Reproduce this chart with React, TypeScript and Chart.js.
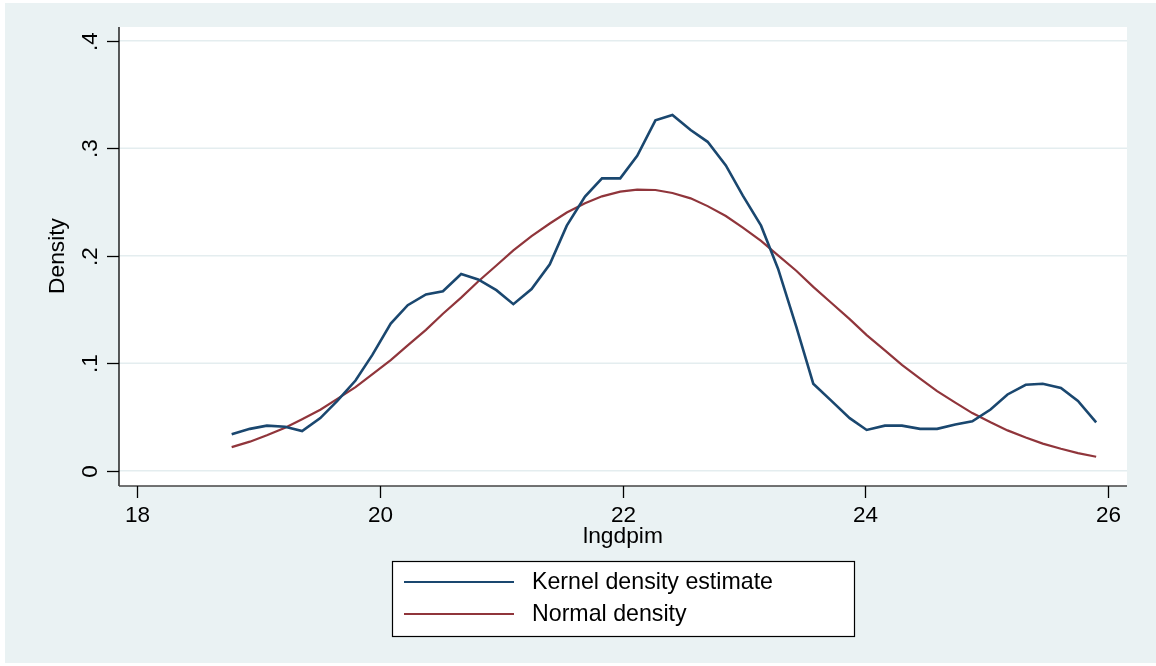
import React, { useEffect, useRef } from "react";
import { Chart, registerables } from "chart.js";

Chart.register(...registerables);

const gridX = [
  18.78, 18.93, 19.07, 19.22, 19.36, 19.51, 19.65, 19.8, 19.94, 20.09,
  20.23, 20.38, 20.52, 20.67, 20.81, 20.96, 21.1, 21.25, 21.4, 21.54,
  21.69, 21.83, 21.98, 22.12, 22.27, 22.41, 22.56, 22.7, 22.85, 22.99,
  23.14, 23.28, 23.43, 23.57, 23.72, 23.87, 24.01, 24.16, 24.3, 24.45,
  24.59, 24.74, 24.88, 25.03, 25.17, 25.32, 25.46, 25.61, 25.75, 25.9,
];

const kernelDensity = [
  0.034, 0.039, 0.042, 0.041, 0.037, 0.049, 0.065, 0.084, 0.108, 0.137,
  0.154, 0.164, 0.167, 0.183, 0.178, 0.168, 0.155, 0.169, 0.192, 0.228,
  0.255, 0.272, 0.272, 0.293, 0.326, 0.331, 0.317, 0.306, 0.284, 0.256,
  0.228, 0.188, 0.134, 0.081, 0.065, 0.049, 0.038, 0.042, 0.042, 0.039,
  0.039, 0.043, 0.046, 0.057, 0.071, 0.08, 0.081, 0.077, 0.065, 0.045,
];

const normalDensity = [
  0.022, 0.0271, 0.0331, 0.04, 0.0479, 0.0568, 0.0669, 0.0779, 0.0899, 0.103,
  0.1167, 0.1311, 0.1461, 0.1611, 0.1761, 0.191, 0.205, 0.2182, 0.23, 0.2403,
  0.2488, 0.2553, 0.2596, 0.2616, 0.2612, 0.2584, 0.2534, 0.2462, 0.237, 0.2262,
  0.2138, 0.2004, 0.1861, 0.1711, 0.1561, 0.1411, 0.1262, 0.112, 0.0985, 0.0857,
  0.0741, 0.0634, 0.0537, 0.0451, 0.0376, 0.031, 0.0253, 0.0205, 0.0165, 0.0131,
];

const seriesLabels = ["Kernel density estimate", "Normal density"];
const xTicks = [18, 20, 22, 24, 26];
const xTickLabels = ["18", "20", "22", "24", "26"];
const yTicks = [0, 0.1, 0.2, 0.3, 0.4];
const yTickLabels = ["0", ".1", ".2", ".3", ".4"];
const xTitle = "lngdpim";
const yTitle = "Density";

const BLUE = "#1A476F";
const RED = "#90353B";
const BG = "#EAF2F3";
const FONT = "'Liberation Sans', Arial, sans-serif";

const stataPlugin = {
  id: "stataLook",
  beforeDraw(chart: any) {
    const { ctx, chartArea, scales } = chart;
    const W = chart.width;
    const H = chart.height;
    ctx.save();
    ctx.fillStyle = "#FFFFFF";
    ctx.fillRect(0, 0, W, H);
    ctx.fillStyle = BG;
    ctx.fillRect(5, 3, W - 5, H - 6);
    ctx.fillStyle = "#FFFFFF";
    ctx.fillRect(chartArea.left, chartArea.top, chartArea.right - chartArea.left, chartArea.bottom - chartArea.top);
    // grid lines
    ctx.strokeStyle = "#E4EDEF";
    ctx.lineWidth = 1.6;
    yTicks.forEach((v) => {
      const y = scales.y.getPixelForValue(v);
      ctx.beginPath();
      ctx.moveTo(chartArea.left, y);
      ctx.lineTo(chartArea.right, y);
      ctx.stroke();
    });
    ctx.restore();
  },
  afterDraw(chart: any) {
    const { ctx, chartArea, scales } = chart;
    ctx.save();
    // axis lines
    ctx.lineWidth = 1.3;
    ctx.strokeStyle = "#000";
    ctx.beginPath();
    ctx.moveTo(chartArea.left, chartArea.top);
    ctx.lineTo(chartArea.left, chartArea.bottom);
    ctx.stroke();
    ctx.strokeStyle = "#444";
    ctx.beginPath();
    ctx.moveTo(chartArea.left, chartArea.bottom);
    ctx.lineTo(chartArea.right, chartArea.bottom);
    ctx.stroke();

    ctx.strokeStyle = "#000";
    ctx.fillStyle = "#000";
    ctx.font = `22.5px ${FONT}`;
    // y ticks
    yTicks.forEach((v, i) => {
      const y = Math.round(scales.y.getPixelForValue(v)) + 0.5;
      ctx.beginPath();
      ctx.moveTo(chartArea.left - 12, y);
      ctx.lineTo(chartArea.left, y);
      ctx.stroke();
      ctx.save();
      ctx.translate(97, y);
      ctx.rotate(-Math.PI / 2);
      ctx.textAlign = "center";
      ctx.textBaseline = "alphabetic";
      ctx.fillText(yTickLabels[i], 0, 0);
      ctx.restore();
    });
    // x ticks
    xTicks.forEach((v, i) => {
      const x = Math.round(scales.x.getPixelForValue(v)) + 0.5;
      ctx.beginPath();
      ctx.moveTo(x, chartArea.bottom);
      ctx.lineTo(x, chartArea.bottom + 12);
      ctx.stroke();
      ctx.textAlign = "center";
      ctx.textBaseline = "alphabetic";
      ctx.fillText(xTickLabels[i], x, 522);
    });
    // titles
    ctx.font = `22.8px ${FONT}`;
    ctx.textAlign = "center";
    ctx.fillText(xTitle, (chartArea.left + chartArea.right) / 2, 543);
    ctx.save();
    ctx.translate(64, 256);
    ctx.rotate(-Math.PI / 2);
    ctx.fillText(yTitle, 0, 0);
    ctx.restore();

    // legend
    const bx = 392, by = 561, bw = 462, bh = 75;
    ctx.fillStyle = "#FFFFFF";
    ctx.fillRect(bx, by, bw, bh);
    ctx.strokeStyle = "#000";
    ctx.lineWidth = 1.2;
    ctx.strokeRect(bx + 0.5, by + 0.5, bw, bh);
    const colors = [BLUE, RED];
    const rows = [582, 614];
    ctx.font = `23.2px ${FONT}`;
    ctx.textAlign = "left";
    ctx.textBaseline = "middle";
    seriesLabels.forEach((lab, i) => {
      ctx.strokeStyle = colors[i];
      ctx.lineWidth = 2.2;
      ctx.beginPath();
      ctx.moveTo(404, rows[i]);
      ctx.lineTo(514, rows[i]);
      ctx.stroke();
      ctx.fillStyle = "#000";
      ctx.fillText(lab, 532, rows[i] + 1);
    });
    ctx.restore();
  },
};

export default function App() {
  const canvasRef = useRef<HTMLCanvasElement | null>(null);

  useEffect(() => {
    document.body.style.margin = "0";
    const canvas = canvasRef.current;
    if (!canvas) return;
    const chart = new Chart(canvas, {
      type: "line",
      data: {
        datasets: [
          {
            label: seriesLabels[0],
            data: gridX.map((x, i) => ({ x, y: kernelDensity[i] })),
            borderColor: BLUE,
            borderWidth: 2.6,
            pointRadius: 0,
            tension: 0,
            fill: false,
          },
          {
            label: seriesLabels[1],
            data: gridX.map((x, i) => ({ x, y: normalDensity[i] })),
            borderColor: RED,
            borderWidth: 2.2,
            pointRadius: 0,
            tension: 0,
            fill: false,
          },
        ],
      },
      options: {
        animation: false,
        responsive: false,
        devicePixelRatio: 1,
        layout: { padding: { left: 119, right: 29, top: 27, bottom: 180 } },
        plugins: {
          legend: { display: false },
          tooltip: { enabled: false },
          title: { display: false },
        },
        scales: {
          x: { type: "linear", display: false, min: 17.852, max: 26.154 },
          y: { type: "linear", display: false, min: -0.01414, max: 0.4128 },
        },
      },
      plugins: [stataPlugin],
    });
    return () => chart.destroy();
  }, []);

  return (
    <div style={{ position: "absolute", left: 0, top: 0, width: 1156, height: 666 }}>
      <canvas ref={canvasRef} width={1156} height={666} />
    </div>
  );
}
